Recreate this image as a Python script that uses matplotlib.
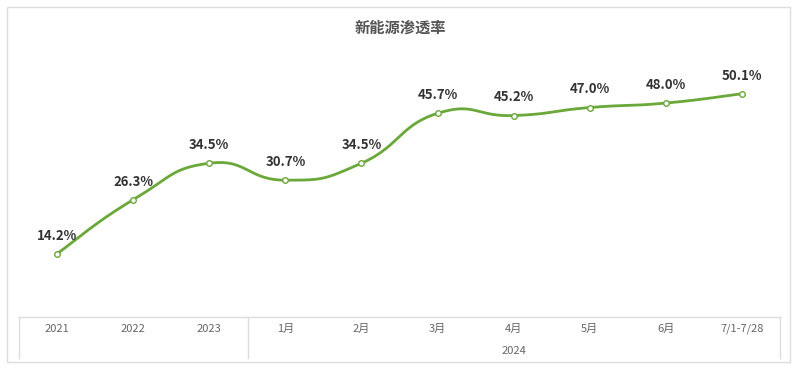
import numpy as np
import matplotlib.pyplot as plt
from matplotlib.lines import Line2D
from matplotlib.patches import Rectangle

plt.rcParams['font.family'] = ['Noto Sans CJK SC', 'DejaVu Sans']

# ---- DADOS ----
categories = ["2021", "2022", "2023", "1月", "2月", "3月", "4月", "5月", "6月", "7/1-7/28"]
penetration = [14.2, 26.3, 34.5, 30.7, 34.5, 45.7, 45.2, 47.0, 48.0, 50.1]
group_label = "2024"
title = "新能源渗透率"

W, H = 800, 372
line_color = "#6aa83a"


def smooth_path(xs, ys, smooth=0.5, n=30):
    # curva bezier tipo echarts (smooth) entre os pontos
    xs = np.asarray(xs, float)
    ys = np.asarray(ys, float)
    px, py = [], []
    m = len(xs)
    for i in range(m - 1):
        p0 = np.array([xs[max(i - 1, 0)], ys[max(i - 1, 0)]])
        p1 = np.array([xs[i], ys[i]])
        p2 = np.array([xs[i + 1], ys[i + 1]])
        p3 = np.array([xs[min(i + 2, m - 1)], ys[min(i + 2, m - 1)]])
        c1 = p1 + (p2 - p0) * smooth / 2
        c2 = p2 - (p3 - p1) * smooth / 2
        t = np.linspace(0, 1, n)[:, None]
        seg = ((1 - t) ** 3) * p1 + 3 * ((1 - t) ** 2) * t * c1 + 3 * (1 - t) * t ** 2 * c2 + t ** 3 * p2
        px.extend(seg[:, 0])
        py.extend(seg[:, 1])
    return np.array(px), np.array(py)


fig = plt.figure(figsize=(W / 100, H / 100), dpi=100)

# moldura externa
fig.add_artist(Rectangle((7 / W, 1 - 362 / H), 783 / W, 355 / H, transform=fig.transFigure,
                         fill=False, edgecolor="#dddddd", linewidth=1))

ax_top, ax_bottom = 50, 317
ax = fig.add_axes([19 / W, 1 - ax_bottom / H, 761 / W, (ax_bottom - ax_top) / H])
x = np.arange(len(categories))
ax.set_xlim(-0.5, len(categories) - 0.5)
ax.set_ylim(0, (ax_bottom - ax_top) / 4.457)

sx, sy = smooth_path(x, penetration)
ax.plot(sx, sy, color=line_color, linewidth=2, solid_capstyle="round", zorder=2)
ax.plot(x, penetration, "o", markersize=4, markerfacecolor="white",
        markeredgecolor=line_color, markeredgewidth=1, zorder=3)

for xi, v in zip(x, penetration):
    ax.annotate(f"{v:.1f}%", (xi, v), xytext=(0, 8), textcoords="offset points",
                ha="center", va="bottom", fontsize=9.5, fontweight="bold", color="#333333")

ax.set_xticks(x)
ax.set_xticklabels(categories, fontsize=8, color="#666666")
ax.tick_params(axis="x", length=0, pad=5)
ax.set_yticks([])
for s in ax.spines.values():
    s.set_visible(False)

# tabela do eixo x
tl, tr, tt, tb = 19, 780, 317, 358
def hline(y, x0, x1):
    fig.add_artist(Line2D([x0 / W, x1 / W], [1 - y / H, 1 - y / H], transform=fig.transFigure,
                          color="#dddddd", linewidth=1))
def vline(xp, y0, y1):
    fig.add_artist(Line2D([xp / W, xp / W], [1 - y0 / H, 1 - y1 / H], transform=fig.transFigure,
                          color="#dddddd", linewidth=1))

hline(tt, tl, tr)
vline(tl, tt, tb)
vline(tr, tt, tb)
vline(247.5, tt, tb)

ax.text(6, -(351 - ax_bottom) / 4.457, group_label, ha="center", va="center",
        fontsize=8, color="#666666")

fig.text(0.5, 1 - 28 / H, title, ha="center", va="center", fontsize=11,
         fontweight="bold", color="#555555")

plt.savefig("out.png", dpi=100)
